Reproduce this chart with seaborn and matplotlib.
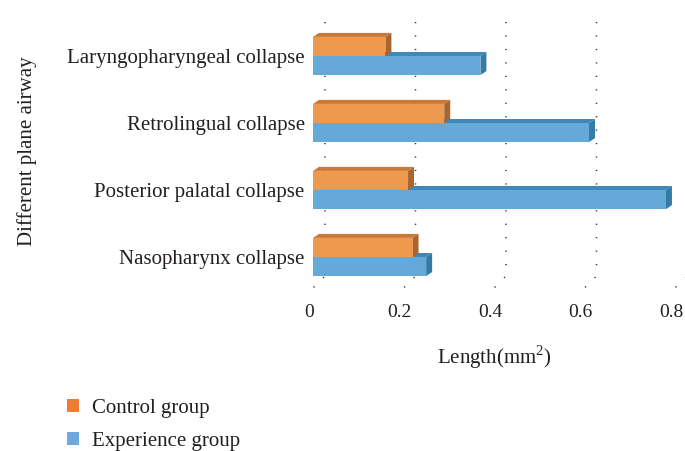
import numpy as np
import pandas as pd
import matplotlib
matplotlib.use("Agg")
import matplotlib.pyplot as plt
from matplotlib.patches import Polygon, Patch
from matplotlib.lines import Line2D
from matplotlib.transforms import ScaledTranslation
import seaborn as sns

# ---- data -------------------------------------------------------------
categories = ["Laryngopharyngeal collapse", "Retrolingual collapse",
              "Posterior palatal collapse", "Nasopharynx collapse"]
groups = ["Control group", "Experience group"]
control = [0.16, 0.29, 0.21, 0.22]
experience = [0.37, 0.61, 0.78, 0.25]
xticks = [0, 0.2, 0.4, 0.6, 0.8]
xtick_labels = ["0", "0.2", "0.4", "0.6", "0.8"]

df = pd.DataFrame({
    "airway": categories * 2,
    "group": [groups[0]] * len(categories) + [groups[1]] * len(categories),
    "length": control + experience,
})

# ---- style ------------------------------------------------------------
sns.set_style("white")
plt.rcParams["font.family"] = ["Liberation Serif", "DejaVu Serif"]
plt.rcParams["mathtext.fontset"] = "custom"
plt.rcParams["mathtext.rm"] = "Liberation Serif"

front = {groups[0]: "#EE9A4E", groups[1]: "#64A9D7"}
top_c = {groups[0]: "#C9793A", groups[1]: "#3F88B9"}
side_c = {groups[0]: "#A9652F", groups[1]: "#357BA8"}
legend_c = {groups[0]: "#ED7D31", groups[1]: "#6FA8DC"}
text_c = "#231F20"

fig = plt.figure(figsize=(6.85, 4.51), dpi=100)
W, H = 685, 451
ax = fig.add_axes([313 / W, 1 - 290.5 / H, 362 / W, 268 / H])

sns.barplot(data=df, y="airway", x="length", hue="group", order=categories,
            hue_order=groups, palette=front, orient="h", width=0.57,
            saturation=1, edgecolor="none", ax=ax, legend=False)

ax.set_xlim(0, 0.8)
ax.set_ylim(len(categories) - 0.5, -0.5)
sns.despine(ax=ax, left=True, bottom=True)
ax.tick_params(axis="both", length=0, colors=text_c)
ax.tick_params(axis="y", pad=6, labelsize=15)
ax.tick_params(axis="x", pad=10, labelsize=14)
ax.set_xticks(xticks)
ax.set_xticklabels(xtick_labels)
for lab in ax.get_xticklabels():
    lab.set_transform(lab.get_transform() + ScaledTranslation(-4 / 100, 0, fig.dpi_scale_trans))

ax.set_xlabel("Length(mm$^2$)", fontsize=15, color=text_c)
ax.xaxis.set_label_coords(0.5, (290.5 - 357) / 268)
ax.xaxis.label.set_va("center")
ax.set_ylabel("Different plane airway", fontsize=15, color=text_c)
ax.yaxis.set_label_coords((27 - 313) / 362, (290.5 - 151) / 268)
ax.yaxis.label.set_va("center")

# ---- 3-D faces derived from each drawn bar -----------------------------
dx, dy = 6, 4  # depth of the bars in pixels
to_disp = ax.transData
to_data = ax.transData.inverted()

bars = list(ax.patches)
for i, bar in enumerate(bars):
    g = groups[i // len(categories)]
    z = 3 if g == groups[0] else 2
    bar.set_zorder(z + 0.2)
    x0, y0 = bar.get_x(), bar.get_y()
    x1, y1 = x0 + bar.get_width(), y0 + bar.get_height()
    (px0, pt), (px1, pb) = to_disp.transform([(x0, y0), (x1, y1)])
    ptop, pbot = max(pt, pb), min(pt, pb)
    top = [(px0, ptop), (px1, ptop), (px1 + dx, ptop + dy), (px0 + dx, ptop + dy)]
    side = [(px1, pbot), (px1, ptop), (px1 + dx, ptop + dy), (px1 + dx, pbot + dy)]
    for pts, col in ((top, top_c[g]), (side, side_c[g])):
        ax.add_patch(Polygon(to_data.transform(pts), closed=True, facecolor=col,
                             edgecolor="none", zorder=z, clip_on=False))

# ---- dotted grid on the back wall and floor ---------------------------
for xv in xticks:
    bx, _ = to_disp.transform((xv, 0))
    pts = [(bx + 12, H - 22), (bx + 12, H - 276), (bx - 2, H - 290)]
    line = to_data.transform(pts)
    ax.add_line(Line2D(line[:, 0], line[:, 1], color="#333333", lw=1.1,
                       linestyle=(0, (0.8, 8)), zorder=1, clip_on=False))

# ---- legend -----------------------------------------------------------
handles = [Patch(facecolor=legend_c[g], edgecolor="none", label=g) for g in groups]
leg = fig.legend(handles=handles, loc="center left",
                 bbox_to_anchor=(48 / W, 1 - 425 / H), frameon=False,
                 fontsize=15, handlelength=0.58, handleheight=0.58,
                 handletextpad=0.63, labelspacing=0.68)
for t in leg.get_texts():
    t.set_color(text_c)

fig.savefig("out.png", dpi=100)
